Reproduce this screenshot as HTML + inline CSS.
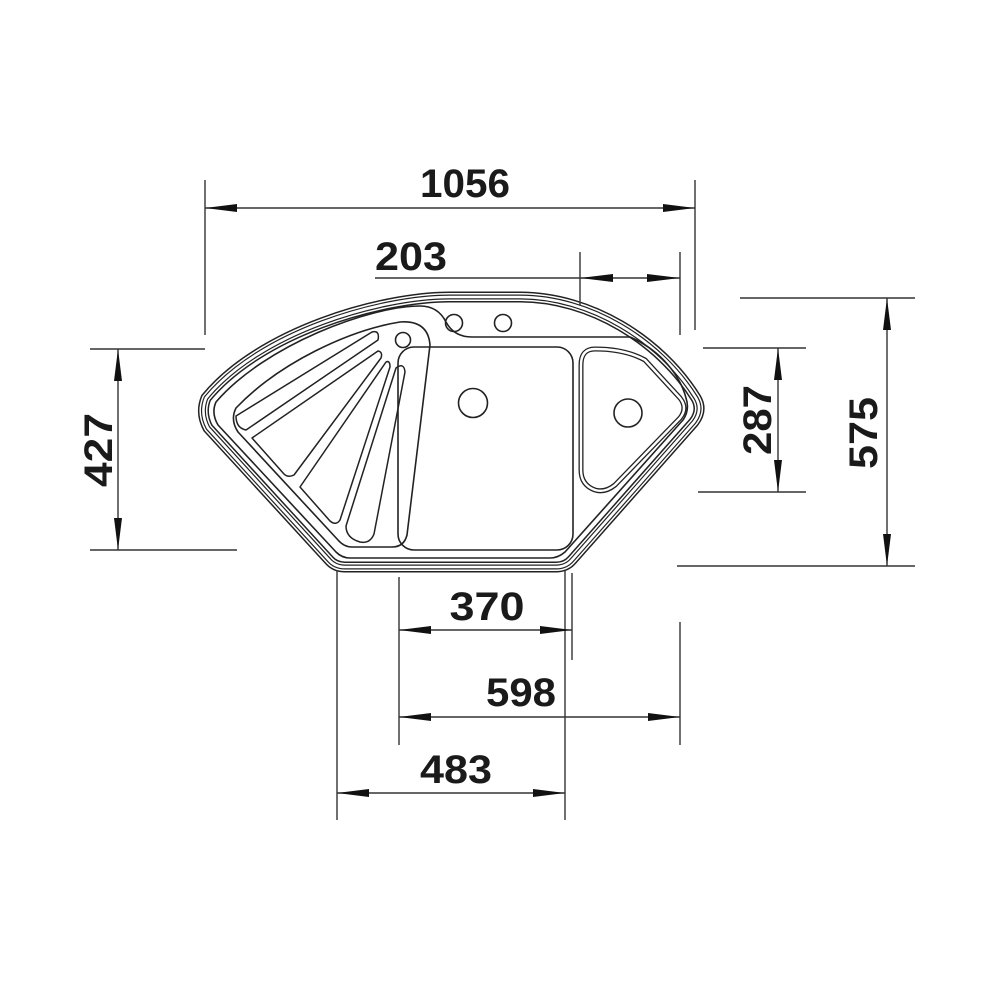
<!DOCTYPE html>
<html><head><style>html,body{margin:0;padding:0;background:#fff}</style></head>
<body>
<svg width="992" height="992" viewBox="0 0 992 992" xmlns="http://www.w3.org/2000/svg" style="display:block">
<defs>
<path id="outer" d="M206,398 C 260,332 380,297 450,297 L 520,297 C 590,297 660,340 696,398 Q 703,410 694,422 L 572,560 Q 566,567 556,567 L 345,567 Q 335,567 329,560 L 208,428 Q 200,413 206,398 Z"/>
</defs>
<g fill="none" stroke-linejoin="round">
<use href="#outer" stroke="#222" stroke-width="11"/>
<use href="#outer" stroke="#fff" stroke-width="8"/>
<use href="#outer" stroke="#222" stroke-width="5"/>
<use href="#outer" stroke="#fff" stroke-width="2.6"/>
<path d="M216,402 C 265,345 370,306 420,306 Q 438,306 446,322 Q 454,337 472,337 L 630,337 C 660,350 680,375 686,398 Q 690,410 683,420 L 565,552 Q 558,558 550,558 L 350,558 Q 342,558 336,552 L 218,425 Q 211,413 216,402 Z" stroke="#222" stroke-width="1.6"/>
<path d="M236,408 C 280,362 350,330 400,322 Q 428,320 430,345 L 407,535 Q 404,547 392,547 L 352,547 Q 344,547 338,540 L 238,432 Q 230,420 236,408 Z" stroke="#222" stroke-width="1.6"/>
<g stroke="#222" stroke-width="1.5">
<path d="M236,416 L372,332 Q 380,330 378,340 L 246,430 Q 236,428 236,416 Z"/>
<path d="M252,438 L378,351 Q 383,352 381,358 L 294,475 Q 288,478 284,474 Z"/>
<path d="M300,487 L386,362 Q 390,360 390,367 L 340,520 Q 336,526 330,521 Z"/>
<path d="M346,526 L396,368 Q 404,362 405,372 L 374,534 Q 370,544 360,542 Q 346,538 346,526 Z"/>
</g>
<circle cx="403" cy="340" r="7.5" stroke="#222" stroke-width="1.6"/>
<circle cx="454" cy="323" r="8.5" stroke="#222" stroke-width="1.6"/>
<circle cx="503" cy="323" r="8.5" stroke="#222" stroke-width="1.6"/>
<rect x="398" y="347" width="175" height="203" rx="16" stroke="#222" stroke-width="1.6"/>
<circle cx="473" cy="403" r="14.5" stroke="#222" stroke-width="1.6"/>
<path d="M595,349 Q 625,349 645,360 L 680,398 Q 688,408 680,418 L 615,485 Q 605,493 595,490 Q 581,485 581,470 L 581,365 Q 581,349 595,349 Z" stroke="#222" stroke-width="5"/>
<path d="M595,349 Q 625,349 645,360 L 680,398 Q 688,408 680,418 L 615,485 Q 605,493 595,490 Q 581,485 581,470 L 581,365 Q 581,349 595,349 Z" stroke="#fff" stroke-width="2.4"/>
<circle cx="628" cy="413" r="14" stroke="#222" stroke-width="1.6"/>
</g>
<g stroke="#333" stroke-width="1.4" fill="none">
<line x1="205" y1="180" x2="205" y2="335"/><line x1="695" y1="180" x2="695" y2="330"/>
<line x1="205" y1="208" x2="695" y2="208"/>
<line x1="580" y1="252" x2="580" y2="305"/><line x1="680" y1="252" x2="680" y2="335"/>
<line x1="375" y1="278" x2="680" y2="278"/>
<line x1="90" y1="349" x2="205" y2="349"/><line x1="90" y1="550" x2="237" y2="550"/>
<line x1="118" y1="349" x2="118" y2="550"/>
<line x1="703" y1="348" x2="806" y2="348"/><line x1="698" y1="492" x2="806" y2="492"/>
<line x1="778" y1="348" x2="778" y2="492"/>
<line x1="740" y1="298" x2="915" y2="298"/><line x1="677" y1="566" x2="915" y2="566"/>
<line x1="887" y1="298" x2="887" y2="566"/>
<line x1="337" y1="570" x2="337" y2="820"/><line x1="565" y1="570" x2="565" y2="820"/>
<line x1="399" y1="577" x2="399" y2="745"/><line x1="572" y1="573" x2="572" y2="660"/>
<line x1="680" y1="622" x2="680" y2="745"/>
<line x1="399" y1="630" x2="572" y2="630"/>
<line x1="399" y1="717" x2="680" y2="717"/>
<line x1="337" y1="793" x2="565" y2="793"/>
</g>
<g fill="#111">
<polygon points="205,208 237,204 237,212"/><polygon points="695,208 663,204 663,212"/>
<polygon points="580,278 613,274 613,282"/><polygon points="680,278 647,274 647,282"/>
<polygon points="118,349 114,381 122,381"/><polygon points="118,550 114,518 122,518"/>
<polygon points="778,348 774,380 782,380"/><polygon points="778,492 774,460 782,460"/>
<polygon points="887,298 883,330 891,330"/><polygon points="887,566 883,534 891,534"/>
<polygon points="399,630 431,626 431,634"/><polygon points="572,630 540,626 540,634"/>
<polygon points="399,717 431,713 431,721"/><polygon points="680,717 648,713 648,721"/>
<polygon points="337,793 369,789 369,797"/><polygon points="565,793 533,789 533,797"/>
</g>
<g font-family="Liberation Sans, sans-serif" font-weight="bold" font-size="40" fill="#1a1a1a" text-anchor="middle">
<text x="465" y="197" textLength="90" lengthAdjust="spacingAndGlyphs">1056</text>
<text x="411" y="270" textLength="72" lengthAdjust="spacingAndGlyphs">203</text>
<text x="487" y="620" textLength="75" lengthAdjust="spacingAndGlyphs">370</text>
<text x="521" y="706" textLength="70" lengthAdjust="spacingAndGlyphs">598</text>
<text x="456" y="783" textLength="72" lengthAdjust="spacingAndGlyphs">483</text>
<text transform="translate(112,450) rotate(-90)" x="0" y="0" textLength="74" lengthAdjust="spacingAndGlyphs">427</text>
<text transform="translate(771,420) rotate(-90)" x="0" y="0" textLength="70" lengthAdjust="spacingAndGlyphs">287</text>
<text transform="translate(877,433) rotate(-90)" x="0" y="0" textLength="72" lengthAdjust="spacingAndGlyphs">575</text>
</g>
</svg>
</body></html>
